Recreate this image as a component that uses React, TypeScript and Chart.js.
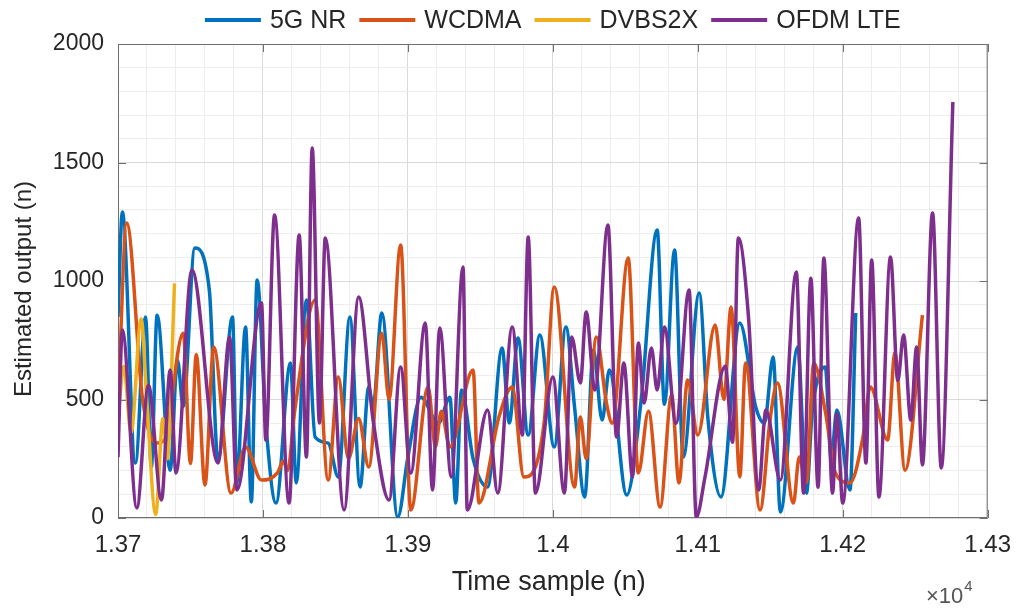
import React, { useEffect, useRef } from "react";
import { Chart, registerables } from "chart.js";

Chart.register(...registerables);

// ---------- data ----------
const seriesNames = ["5G NR", "WCDMA", "DVBS2X", "OFDM LTE"];
const seriesColors = ["#0072BD", "#D95319", "#EDB120", "#7E2F8E"];

const nrSamples = [13700, 13703, 13712, 13719, 13723, 13727, 13736, 13741, 13745, 13753, 13763, 13769, 13779, 13782, 13788, 13792, 13796, 13802, 13809, 13819, 13823, 13830, 13836, 13845, 13852, 13860, 13867, 13873, 13876, 13882, 13893, 13900, 13909, 13921, 13929, 13933, 13937, 13945, 13955, 13965, 13970, 13976, 13983, 13991, 14001, 14009, 14015, 14022, 14028, 14034, 14039, 14051, 14061, 14072, 14077, 14084, 14090, 14101, 14107, 14116, 14129, 14140, 14146, 14152, 14157, 14169, 14175, 14179, 14188, 14192, 14196, 14205, 14209];
const nrValues = [848, 1291, 232, 848, 215, 856, 202, 667, 470, 1139, 962, 245, 848, 148, 806, 68, 1004, 400, 63, 654, 148, 920, 342, 316, 173, 848, 131, 553, 470, 865, 4, 257, 510, 400, 510, 63, 540, 250, 131, 717, 401, 760, 350, 772, 300, 806, 468, 89, 709, 413, 624, 97, 500, 1215, 480, 1131, 257, 949, 420, 89, 823, 468, 400, 679, 25, 721, 105, 450, 637, 250, 456, 118, 865];

const wcdmaSamples = [13700, 13706, 13717, 13727, 13732, 13745, 13750, 13754, 13760, 13766, 13778, 13788, 13799, 13810, 13814, 13817, 13822, 13836, 13845, 13852, 13859, 13866, 13873, 13882, 13887, 13895, 13902, 13914, 13919, 13923, 13929, 13945, 13949, 13963, 13972, 13980, 13994, 14001, 14015, 14019, 14023, 14030, 14037, 14041, 14052, 14059, 14066, 14074, 14082, 14087, 14093, 14100, 14112, 14118, 14123, 14129, 14133, 14143, 14150, 14155, 14166, 14170, 14175, 14180, 14188, 14195, 14205, 14214, 14219, 14231, 14236, 14243, 14255];
const wcdmaValues = [468, 1245, 500, 316, 330, 780, 230, 690, 139, 721, 105, 300, 160, 190, 240, 200, 456, 920, 160, 595, 250, 420, 215, 780, 500, 1152, 34, 553, 300, 450, 300, 624, 63, 430, 553, 173, 401, 975, 131, 426, 250, 764, 485, 400, 1097, 190, 450, 46, 519, 148, 582, 350, 814, 500, 890, 173, 654, 34, 420, 570, 63, 257, 150, 654, 450, 190, 148, 342, 553, 329, 696, 202, 856];

const dvbSamples = [13700, 13704, 13709, 13716, 13720, 13726, 13731, 13734, 13739];
const dvbValues = [420, 640, 360, 840, 480, 15, 420, 250, 990];

const lteSamples = [13700, 13703, 13713, 13721, 13730, 13736, 13740, 13751, 13769, 13777, 13782, 13799, 13802, 13808, 13818, 13825, 13830, 13834, 13839, 13843, 13856, 13866, 13876, 13887, 13895, 13902, 13912, 13917, 13922, 13930, 13938, 13941, 13955, 13962, 13972, 13979, 13983, 13988, 14000, 14008, 14013, 14019, 14023, 14029, 14038, 14044, 14049, 14055, 14059, 14063, 14068, 14072, 14077, 14085, 14094, 14099, 14105, 14119, 14124, 14128, 14135, 14142, 14147, 14157, 14168, 14173, 14178, 14183, 14187, 14193, 14196, 14200, 14211, 14216, 14220, 14225, 14233, 14238, 14242, 14247, 14251, 14255, 14262, 14268, 14276];
const lteValues = [257, 793, 42, 560, 76, 624, 190, 1046, 232, 764, 118, 907, 329, 1278, 63, 1194, 257, 1561, 401, 1181, 34, 932, 413, 76, 637, 190, 823, 118, 802, 173, 1059, 34, 456, 105, 806, 350, 1186, 105, 595, 105, 764, 570, 869, 540, 1236, 342, 654, 173, 738, 485, 717, 540, 806, 400, 962, 4, 173, 640, 320, 1181, 848, 118, 456, 160, 1038, 105, 1012, 130, 1097, 105, 440, 63, 1266, 232, 1089, 89, 1101, 580, 772, 413, 721, 224, 1287, 211, 1755];

const xMin = 13700;
const xMax = 14300;
const yMin = 0;
const yMax = 2000;
const xMajorStep = 100;
const xMinorStep = 20;
const yMajorStep = 500;
const yMinorStep = 100;

const xTitle = "Time sample (n)";
const yTitle = "Estimated output (n)";
const xExponentBase = "\u00d710";
const xExponent = "4";

const FONT = '"Liberation Sans", Arial, Helvetica, sans-serif';
const TEXT_COLOR = "#262626";

function toPoints(xs: number[], ys: number[]) {
  return xs.map((x, i) => ({ x, y: ys[i] }));
}

function range(a: number, b: number, step: number) {
  const out: number[] = [];
  for (let v = a; v <= b + 1e-9; v += step) out.push(v);
  return out;
}

const decorPlugin = {
  id: "decor",
  beforeDatasetsDraw(chart: any) {
    const { ctx, chartArea: a, scales } = chart;
    ctx.save();
    ctx.strokeStyle = "#6e6e6e";
    ctx.lineWidth = 1;
    ctx.strokeRect(a.left + 0.5, a.top + 0.5, a.right - a.left - 1, a.bottom - a.top - 1);
    const tl = 8;
    ctx.beginPath();
    for (const v of range(xMin, xMax, xMajorStep)) {
      const x = Math.round(scales.x.getPixelForValue(v)) + 0.5;
      ctx.moveTo(x, a.bottom);
      ctx.lineTo(x, a.bottom - tl);
      ctx.moveTo(x, a.top);
      ctx.lineTo(x, a.top + tl);
    }
    for (const v of range(yMin, yMax, yMajorStep)) {
      const y = Math.round(scales.y.getPixelForValue(v)) + 0.5;
      ctx.moveTo(a.left, y);
      ctx.lineTo(a.left + tl, y);
      ctx.moveTo(a.right, y);
      ctx.lineTo(a.right - tl, y);
    }
    ctx.stroke();
    ctx.restore();
  },
  afterDraw(chart: any) {
    const { ctx, chartArea: a } = chart;
    ctx.save();
    ctx.fillStyle = TEXT_COLOR;
    ctx.textAlign = "center";
    ctx.textBaseline = "middle";
    // axis titles
    ctx.font = `27px ${FONT}`;
    ctx.fillText(xTitle, (a.left + a.right) / 2 - 4, 583);
    ctx.save();
    ctx.font = `24px ${FONT}`;
    ctx.translate(24, (a.top + a.bottom) / 2 + 8);
    ctx.rotate(-Math.PI / 2);
    ctx.fillText(yTitle, 0, 0);
    ctx.restore();
    // exponent
    ctx.textAlign = "left";
    ctx.font = `22px ${FONT}`;
    ctx.fillStyle = "#555";
    ctx.fillText(xExponentBase, 926, 597);
    const w = ctx.measureText(xExponentBase).width;
    ctx.font = `15px ${FONT}`;
    ctx.fillText(xExponent, 926 + w + 1, 587);
    // legend
    ctx.font = `25px ${FONT}`;
    ctx.fillStyle = TEXT_COLOR;
    const lineLen = 56;
    const gapLT = 9;
    const gapItem = 13;
    const widths = seriesNames.map((n) => ctx.measureText(n).width);
    const total = widths.reduce((s, w2) => s + lineLen + gapLT + w2, 0) + gapItem * (seriesNames.length - 1);
    let x = (a.left + a.right) / 2 - total / 2;
    const y = 20;
    seriesNames.forEach((n, i) => {
      ctx.strokeStyle = seriesColors[i];
      ctx.lineWidth = 4;
      ctx.beginPath();
      ctx.moveTo(x, y);
      ctx.lineTo(x + lineLen, y);
      ctx.stroke();
      x += lineLen + gapLT;
      ctx.fillText(n, x, y + 1);
      x += widths[i] + gapItem;
    });
    ctx.restore();
  },
};

export default function App() {
  const canvasRef = useRef<HTMLCanvasElement | null>(null);

  useEffect(() => {
    if (!canvasRef.current) return;
    const series = [
      { xs: nrSamples, ys: nrValues },
      { xs: wcdmaSamples, ys: wcdmaValues },
      { xs: dvbSamples, ys: dvbValues },
      { xs: lteSamples, ys: lteValues },
    ];
    const chart = new Chart(canvasRef.current, {
      type: "line",
      data: {
        datasets: series.map((s, i) => ({
          label: seriesNames[i],
          data: toPoints(s.xs, s.ys),
          borderColor: seriesColors[i],
          backgroundColor: seriesColors[i],
          borderWidth: 3.5,
          pointRadius: 0,
          cubicInterpolationMode: "monotone" as const,
          fill: false,
          order: 3 - i,
        })),
      },
      options: {
        animation: false,
        responsive: false,
        maintainAspectRatio: false,
        layout: { padding: { left: 0, right: 31, top: 44, bottom: 0 } },
        plugins: { legend: { display: false }, tooltip: { enabled: false }, title: { display: false } },
        scales: {
          x: {
            type: "linear",
            min: xMin,
            max: xMax,
            afterBuildTicks: (s: any) => {
              s.ticks = range(xMin, xMax, xMinorStep).map((v) => ({ value: v }));
            },
            afterFit: (s: any) => {
              s.height = 93;
            },
            border: { display: false },
            grid: {
              drawTicks: false,
              color: (c: any) => (c.tick && Math.round(c.tick.value) % xMajorStep === 0 ? "#d9d9d9" : "#ededed"),
              lineWidth: 1,
            },
            ticks: {
              autoSkip: false,
              maxRotation: 0,
              minRotation: 0,
              padding: 13,
              color: TEXT_COLOR,
              font: { family: FONT, size: 24 },
              callback: (v: any) => {
                const n = Math.round(Number(v));
                if (n % xMajorStep !== 0) return "";
                return String(parseFloat((n / 10000).toFixed(2)));
              },
            },
          },
          y: {
            type: "linear",
            min: yMin,
            max: yMax,
            afterBuildTicks: (s: any) => {
              s.ticks = range(yMin, yMax, yMinorStep).map((v) => ({ value: v }));
            },
            afterFit: (s: any) => {
              s.width = 118;
            },
            border: { display: false },
            grid: {
              drawTicks: false,
              color: (c: any) => (c.tick && Math.round(c.tick.value) % yMajorStep === 0 ? "#d9d9d9" : "#ededed"),
              lineWidth: 1,
            },
            ticks: {
              autoSkip: false,
              padding: 14,
              color: TEXT_COLOR,
              font: { family: FONT, size: 23 },
              callback: (v: any) => {
                const n = Math.round(Number(v));
                return n % yMajorStep === 0 ? String(n) : "";
              },
            },
          },
        },
      },
      plugins: [decorPlugin],
    });
    return () => chart.destroy();
  }, []);

  return (
    <div style={{ position: "fixed", left: 0, top: 0, width: 1024, height: 611, background: "#fff" }}>
      <canvas ref={canvasRef} width={1024} height={611} style={{ display: "block", width: 1024, height: 611 }} />
    </div>
  );
}
